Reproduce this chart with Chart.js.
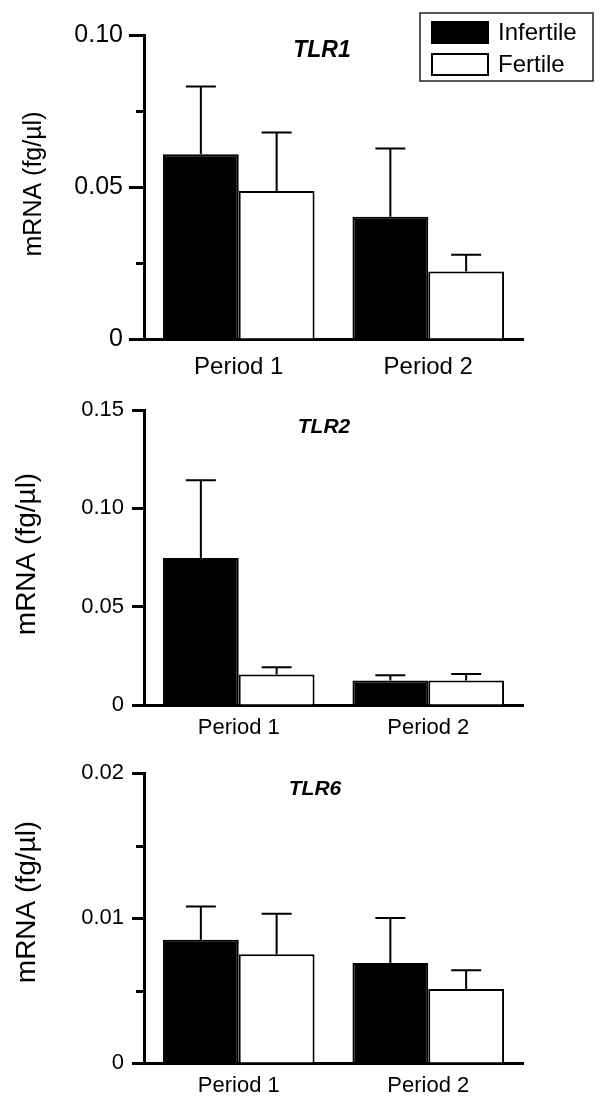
<!DOCTYPE html>
<html>
<head>
<meta charset="utf-8">
<script src="https://cdn.jsdelivr.net/npm/chart.js"></script>
<style>
  body { margin: 0; background: #fff; }
  canvas { position: absolute; left: 0; }
</style>
</head>
<body>
<canvas id="tlr1" width="600" height="380" style="top:0px"></canvas>
<canvas id="tlr2" width="600" height="370" style="top:380px"></canvas>
<canvas id="tlr6" width="600" height="356" style="top:750px"></canvas>
<script>
const periods = ['Period 1', 'Period 2'];
const groups = ['Infertile', 'Fertile'];

// mean mRNA (fg/µl) and upper error (SEM)
const tlr1Infertile = [0.0608, 0.0402];
const tlr1InfertileSem = [0.0223, 0.0225];
const tlr1Fertile = [0.0487, 0.0222];
const tlr1FertileSem = [0.0192, 0.0055];

const tlr2Infertile = [0.0747, 0.0125];
const tlr2InfertileSem = [0.0396, 0.0026];
const tlr2Fertile = [0.0155, 0.0124];
const tlr2FertileSem = [0.0037, 0.0034];

const tlr6Infertile = [0.0085, 0.0069];
const tlr6InfertileSem = [0.0023, 0.0031];
const tlr6Fertile = [0.0075, 0.0051];
const tlr6FertileSem = [0.0028, 0.0013];

// y axes: max, tick step, which ticks get a label
const tlr1Max = 0.10, tlr1Step = 0.025, tlr1Labelled = [0, 0.05, 0.10];
const tlr2Max = 0.15, tlr2Step = 0.05, tlr2Labelled = [0, 0.05, 0.10, 0.15];
const tlr6Max = 0.02, tlr6Step = 0.005, tlr6Labelled = [0, 0.01, 0.02];

Chart.defaults.font.family = '"Liberation Sans", Arial, Helvetica, sans-serif';
Chart.defaults.color = '#000';

function isLabelled(v, list) {
    return list.some(l => Math.abs(l - v) < 1e-9);
}

const panelExtras = {
    id: 'panelExtras',
    afterDraw(chart, args, opts) {
        const ctx = chart.ctx;
        const y = chart.scales.y;
        ctx.save();
        ctx.strokeStyle = '#000';
        ctx.fillStyle = '#000';

        // short minor ticks
        ctx.lineWidth = 3;
        y.ticks.forEach(t => {
            if (!isLabelled(t.value, opts.labelled)) {
                const py = Math.round(y.getPixelForValue(t.value)) + 0.5;
                ctx.beginPath();
                ctx.moveTo(y.right - opts.minorLen, py);
                ctx.lineTo(y.right, py);
                ctx.stroke();
            }
        });

        // upper error bars
        ctx.lineWidth = 2;
        chart.data.datasets.forEach((ds, di) => {
            const meta = chart.getDatasetMeta(di);
            meta.data.forEach((bar, i) => {
                const top = y.getPixelForValue(ds.data[i] + ds.sem[i]);
                ctx.beginPath();
                ctx.moveTo(bar.x, bar.y);
                ctx.lineTo(bar.x, top);
                ctx.moveTo(bar.x - opts.cap / 2, top);
                ctx.lineTo(bar.x + opts.cap / 2, top);
                ctx.stroke();
            });
        });

        // gene name
        ctx.font = opts.nameFont;
        ctx.textAlign = 'center';
        ctx.textBaseline = 'middle';
        ctx.fillText(opts.name, opts.nameX, opts.nameY);

        // y axis title
        ctx.save();
        ctx.translate(opts.titleX, opts.titleY);
        ctx.rotate(-Math.PI / 2);
        ctx.font = opts.titleFont;
        ctx.fillText('mRNA (fg/µl)', 0, 0);
        ctx.restore();

        // boxed legend (top panel only)
        if (opts.legend) {
            const L = opts.legend;
            ctx.lineWidth = 1.5;
            ctx.strokeStyle = '#222';
            ctx.strokeRect(L.x, L.y, L.w, L.h);
            ctx.strokeStyle = '#000';
            ctx.font = L.font;
            ctx.textAlign = 'left';
            chart.data.datasets.forEach((ds, di) => {
                const sy = L.y + L.rowTop + di * L.rowGap;
                ctx.fillStyle = ds.backgroundColor;
                ctx.fillRect(L.x + 12, sy, 56, 21);
                ctx.lineWidth = 2;
                ctx.strokeRect(L.x + 12, sy, 56, 21);
                ctx.fillStyle = '#000';
                ctx.fillText(ds.label, L.x + 78, sy + 11);
            });
        }
        ctx.restore();
    }
};

function makePanel(id, c) {
    new Chart(document.getElementById(id), {
        type: 'bar',
        data: {
            labels: periods,
            datasets: [
                { label: groups[0], data: c.inf, sem: c.infSem, backgroundColor: '#000', borderColor: '#000', borderWidth: 2 },
                { label: groups[1], data: c.fer, sem: c.ferSem, backgroundColor: '#fff', borderColor: '#000', borderWidth: 2 }
            ]
        },
        options: {
            responsive: false,
            animation: false,
            events: [],
            layout: { padding: { top: c.top, right: 77, left: 0, bottom: 0 } },
            datasets: { bar: { categoryPercentage: 0.8, barPercentage: 1 } },
            plugins: {
                legend: { display: false },
                tooltip: { enabled: false },
                panelExtras: c.extras
            },
            scales: {
                x: {
                    grid: { display: false, drawTicks: false },
                    border: { color: '#000', width: 3 },
                    ticks: { color: '#000', padding: c.xPad, font: { size: c.xFont } },
                    afterFit: s => { s.height = c.xHeight; }
                },
                y: {
                    min: 0,
                    max: c.max,
                    grid: {
                        drawOnChartArea: false,
                        tickLength: c.tickLen,
                        tickWidth: 3,
                        tickColor: t => (t.tick && isLabelled(t.tick.value, c.labelled)) ? '#000' : 'rgba(0,0,0,0)'
                    },
                    border: { color: '#000', width: 3 },
                    ticks: {
                        stepSize: c.step,
                        padding: c.yPad,
                        color: '#000',
                        font: { size: c.yFont },
                        callback: v => isLabelled(v, c.labelled) ? (Math.abs(v) < 1e-9 ? '0' : v.toFixed(2)) : ''
                    },
                    afterFit: s => { s.width = 144; }
                }
            }
        },
        plugins: [panelExtras]
    });
}

makePanel('tlr1', {
    inf: tlr1Infertile, infSem: tlr1InfertileSem, fer: tlr1Fertile, ferSem: tlr1FertileSem,
    max: tlr1Max, step: tlr1Step, labelled: tlr1Labelled,
    top: 35, xHeight: 41, xPad: 14, xFont: 24, yFont: 25, yPad: 6, tickLen: 15,
    extras: {
        labelled: tlr1Labelled, minorLen: 8, cap: 30,
        name: 'TLR1', nameFont: 'italic bold 23px "Liberation Sans", Arial, sans-serif', nameX: 322, nameY: 51,
        titleFont: '25px "Liberation Sans", Arial, sans-serif', titleX: 34, titleY: 184,
        legend: { x: 420, y: 13, w: 173, h: 68, rowTop: 9, rowGap: 32, font: '24px "Liberation Sans", Arial, sans-serif' }
    }
});

makePanel('tlr2', {
    inf: tlr2Infertile, infSem: tlr2InfertileSem, fer: tlr2Fertile, ferSem: tlr2FertileSem,
    max: tlr2Max, step: tlr2Step, labelled: tlr2Labelled,
    top: 30, xHeight: 45, xPad: 10, xFont: 22, yFont: 22, yPad: 8, tickLen: 12,
    extras: {
        labelled: tlr2Labelled, minorLen: 8, cap: 30,
        name: 'TLR2', nameFont: 'italic bold 21px "Liberation Sans", Arial, sans-serif', nameX: 324, nameY: 47,
        titleFont: '28px "Liberation Sans", Arial, sans-serif', titleX: 27, titleY: 174
    }
});

makePanel('tlr6', {
    inf: tlr6Infertile, infSem: tlr6InfertileSem, fer: tlr6Fertile, ferSem: tlr6FertileSem,
    max: tlr6Max, step: tlr6Step, labelled: tlr6Labelled,
    top: 23, xHeight: 43, xPad: 10, xFont: 22, yFont: 22, yPad: 8, tickLen: 12,
    extras: {
        labelled: tlr6Labelled, minorLen: 8, cap: 30,
        name: 'TLR6', nameFont: 'italic bold 21px "Liberation Sans", Arial, sans-serif', nameX: 315, nameY: 39,
        titleFont: '28px "Liberation Sans", Arial, sans-serif', titleX: 27, titleY: 152
    }
});
</script>
</body>
</html>
